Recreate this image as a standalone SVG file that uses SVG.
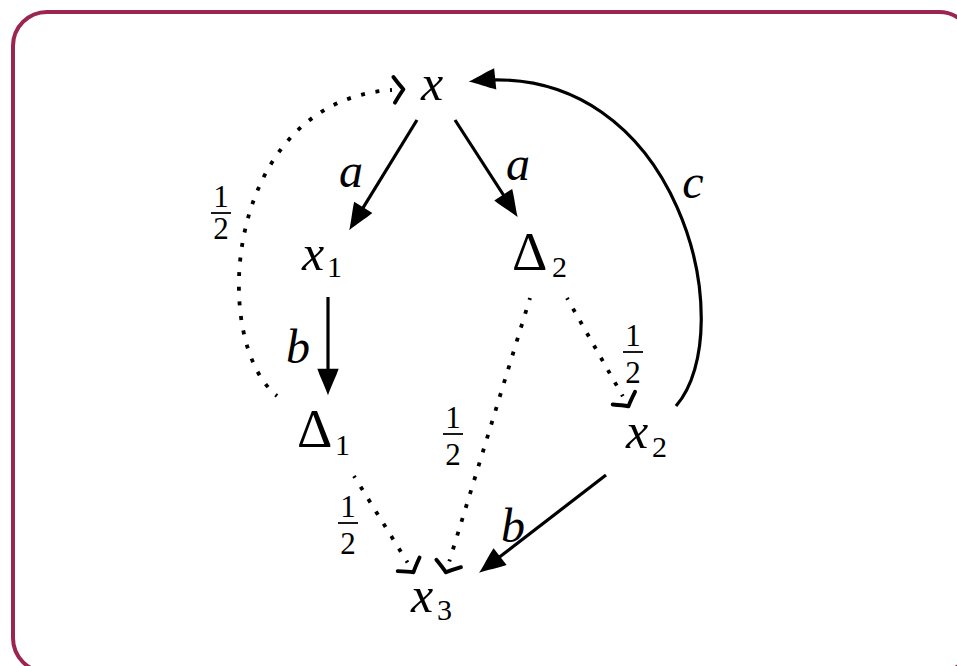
<svg xmlns="http://www.w3.org/2000/svg" width="957" height="666" viewBox="0 0 957 666">
<style>
.v{font-family:"Liberation Serif","Times New Roman",serif;font-style:italic;font-size:50px;fill:#000}
.d{font-family:"Liberation Serif","Times New Roman",serif;font-size:55px;fill:#000}
.s{font-family:"Liberation Serif","Times New Roman",serif;font-size:30px;fill:#000}
.f{font-family:"Liberation Serif","Times New Roman",serif;font-size:31px;fill:#000;text-anchor:middle}
.lab{font-family:"Liberation Serif","Times New Roman",serif;font-style:italic;font-size:48px;fill:#000;text-anchor:middle}
.solid{fill:none;stroke:#000;stroke-width:3.2;marker-end:url(#ah)}
.dot{fill:none;stroke:#000;stroke-width:3.8;stroke-linecap:butt;stroke-dasharray:0.27 0.73;stroke-dashoffset:0.135;marker-end:url(#oh)}
.bar{stroke:#000;stroke-width:1.8}
</style>
<defs>
<marker id="ah" markerUnits="userSpaceOnUse" markerWidth="40" markerHeight="40" viewBox="-24 -12 30 24" refX="-4" refY="0" orient="auto" overflow="visible">
<path d="M0,0 C-6,-2 -14,-6 -20,-8 L-20,8 C-14,6 -6,2 0,0Z" fill="#000"/>
</marker>
<marker id="oh" markerUnits="userSpaceOnUse" markerWidth="40" markerHeight="40" viewBox="-14 -14 28 28" refX="-8" refY="0" orient="auto" overflow="visible">
<path d="M-6.5,-9 Q-2.5,-3 0,0 Q-2.5,3 -6.5,9" fill="none" stroke="#000" stroke-width="2.7" stroke-linecap="round" stroke-linejoin="round"/>
</marker>
</defs>
<rect x="13" y="12" width="960" height="660" rx="34" fill="#fff" stroke="#9b2451" stroke-width="4"/>
<g id="connectors">
<line class="solid" x1="417" y1="120" x2="352.1" y2="225.6"/>
<line class="solid" x1="455" y1="120" x2="514.8" y2="212.6"/>
<line class="solid" x1="328" y1="297" x2="328" y2="390"/>
<line class="solid" x1="606" y1="475" x2="483.2" y2="569.6"/>
<path class="solid" d="M676,406 C742,330 680,60 474,81"/>
<path class="dot" pathLength="27" d="M277,396 C208,340 225,100 392,90"/>
<line class="dot" pathLength="7" x1="354" y1="476" x2="407.5" y2="562.5"/>
<line class="dot" pathLength="19" x1="530" y1="298" x2="449.3" y2="561.4"/>
<line class="dot" pathLength="8" x1="567" y1="298" x2="622.8" y2="396.3"/>
<g id="edge-labels">
<text class="lab" x="351" y="187">a</text>
<text class="lab" x="518" y="180">a</text>
<text class="lab" x="693" y="198">c</text>
<text class="lab" x="298" y="363">b</text>
<text class="lab" x="513" y="542">b</text>
<g id="frac1"><text class="f" x="221" y="207">1</text><line class="bar" x1="211" y1="213" x2="231" y2="213"/><text class="f" x="221" y="239">2</text></g>
<g id="frac2"><text class="f" x="633" y="346">1</text><line class="bar" x1="623" y1="352" x2="643" y2="352"/><text class="f" x="633" y="383">2</text></g>
<g id="frac3"><text class="f" x="453" y="428">1</text><line class="bar" x1="443" y1="434" x2="463" y2="434"/><text class="f" x="453" y="465">2</text></g>
<g id="frac4"><text class="f" x="348" y="517">1</text><line class="bar" x1="338" y1="523" x2="358" y2="523"/><text class="f" x="348" y="554">2</text></g>
</g>
</g>
<g id="node-x"><text class="v" x="421" y="100">x</text></g>
<g id="node-x1"><text class="v" x="302" y="270">x</text><text class="s" x="327" y="277">1</text></g>
<g id="node-Delta2"><text class="d" x="512" y="270">Δ</text><text class="s" x="552" y="277">2</text></g>
<g id="node-Delta1"><text class="d" x="297" y="447">Δ</text><text class="s" x="335" y="455">1</text></g>
<g id="node-x2"><text class="v" x="626" y="448">x</text><text class="s" x="652" y="457">2</text></g>
<g id="node-x3"><text class="v" x="411" y="612">x</text><text class="s" x="437" y="620">3</text></g>
</svg>
